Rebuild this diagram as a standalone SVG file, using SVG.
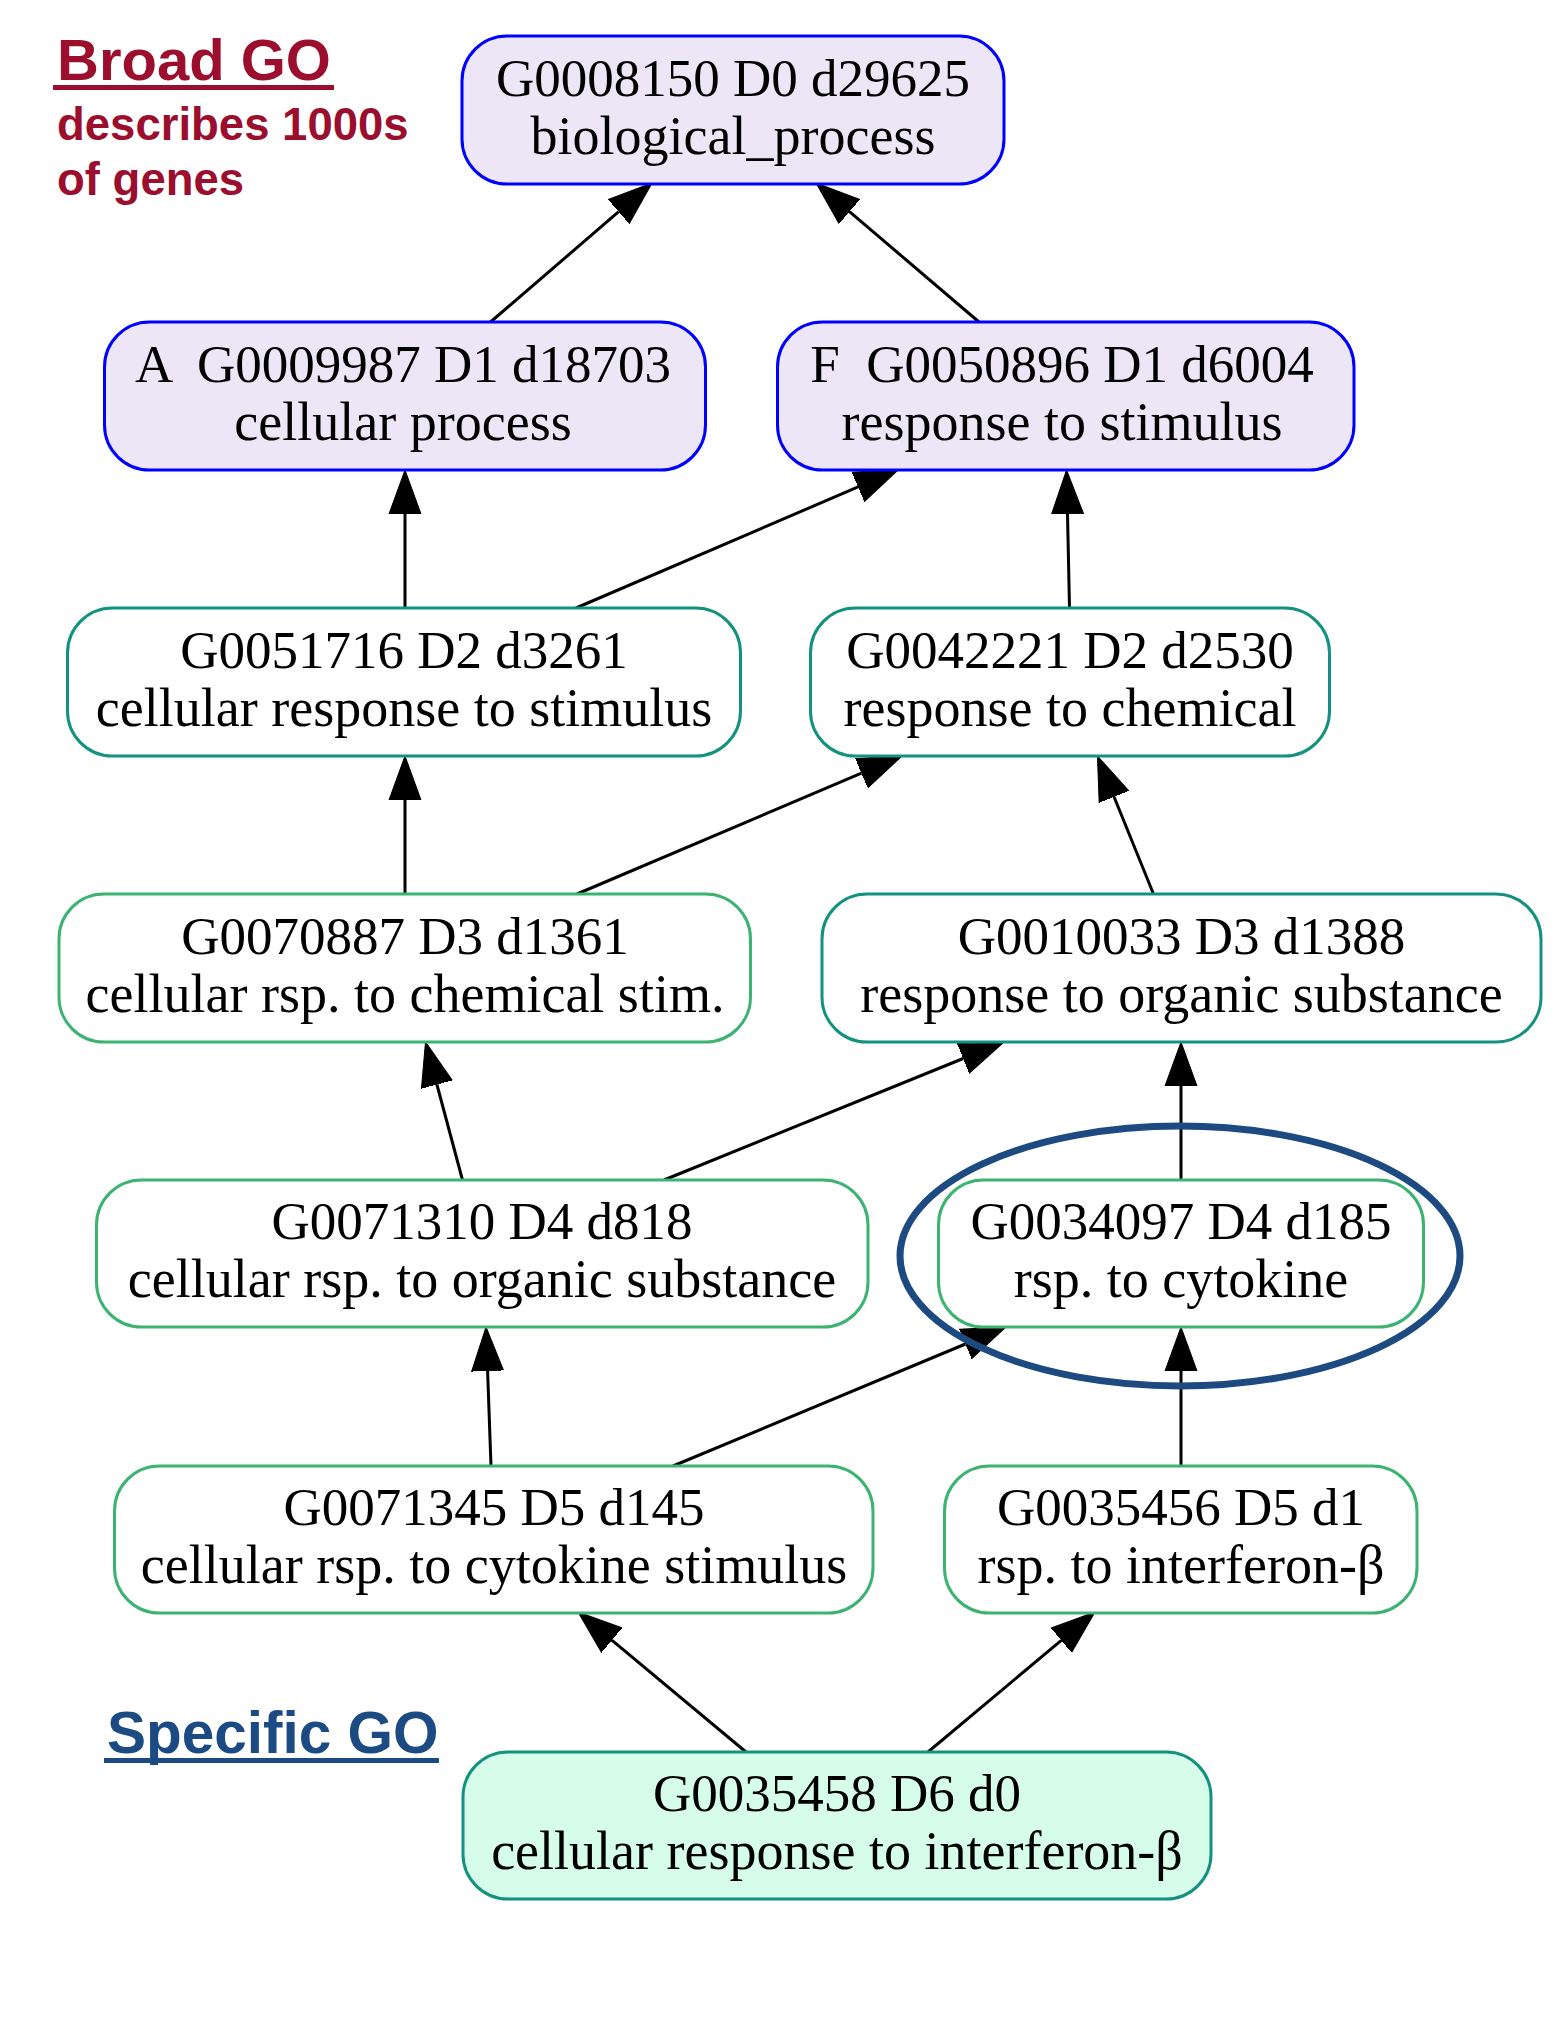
<svg xmlns="http://www.w3.org/2000/svg" width="1559" height="2038" viewBox="0 0 1559 2038">
<style>
.n rect{stroke-width:3}
.lav rect{fill:#ede6f6;stroke:#0000ff}
.teal rect{fill:#ffffff;stroke:#12927f}
.grn rect{fill:#ffffff;stroke:#3cb371}
.mint rect{fill:#d5fde9;stroke:#12927f}
.n text{font-family:"Liberation Serif","Times New Roman",serif;font-size:53px;fill:#000;text-anchor:middle;white-space:pre}
.n text.d{font-size:54px}
.e line{stroke:#000;stroke-width:3;fill:none}
.lbl{font-family:"Liberation Sans",Arial,sans-serif;font-weight:bold}
</style>
<defs>
<marker id="ah" markerUnits="userSpaceOnUse" markerWidth="46" markerHeight="34" refX="0" refY="17" orient="auto" viewBox="0 0 46 34">
<path d="M0,1 L44,17 L0,33 z" fill="#000" stroke="#000" stroke-width="1"/>
</marker>
</defs>
<rect width="1559" height="2038" fill="#ffffff"/>

<g id="labels">
<text class="lbl" x="57" y="80" font-size="58" fill="#9b0e2d">Broad GO</text>
<line x1="53" y1="87.5" x2="334" y2="87.5" stroke="#9b0e2d" stroke-width="5"/>
<text class="lbl" x="57" y="140" font-size="45.5" fill="#9b0e2d">describes 1000s</text>
<text class="lbl" x="57" y="195" font-size="45.5" fill="#9b0e2d">of genes</text>
<text class="lbl" x="107" y="1753" font-size="58.5" fill="#1c4a82">Specific GO</text>
<line x1="104" y1="1760.5" x2="439" y2="1760.5" stroke="#1c4a82" stroke-width="5"/>
</g>

<g id="edges" class="e">
<line x1="490.5" y1="322" x2="618.7" y2="211.7" marker-end="url(#ah)"/>
<line x1="979" y1="322" x2="849.5" y2="211.6" marker-end="url(#ah)"/>
<line x1="576" y1="608" x2="858.1" y2="486.9" marker-end="url(#ah)"/>
<line x1="405" y1="608" x2="405" y2="514" marker-end="url(#ah)"/>
<line x1="1069.5" y1="608" x2="1067.5" y2="514" marker-end="url(#ah)"/>
<line x1="405" y1="894" x2="405" y2="800" marker-end="url(#ah)"/>
<line x1="577" y1="894" x2="861.5" y2="773.2" marker-end="url(#ah)"/>
<line x1="1153.5" y1="894" x2="1114" y2="796.8" marker-end="url(#ah)"/>
<line x1="462.5" y1="1180" x2="436.9" y2="1084.5" marker-end="url(#ah)"/>
<line x1="664" y1="1180" x2="963.2" y2="1058.5" marker-end="url(#ah)"/>
<line x1="1181" y1="1180" x2="1181" y2="1086" marker-end="url(#ah)"/>
<line x1="491" y1="1466" x2="487.6" y2="1371" marker-end="url(#ah)"/>
<line x1="673" y1="1466" x2="965.4" y2="1344" marker-end="url(#ah)"/>
<line x1="1181" y1="1466" x2="1181" y2="1371" marker-end="url(#ah)"/>
<line x1="746" y1="1752" x2="611.8" y2="1640.2" marker-end="url(#ah)"/>
<line x1="928" y1="1752" x2="1061.3" y2="1640.3" marker-end="url(#ah)"/>
</g>

<g id="n_G0008150" class="n lav">
<rect x="462" y="36" width="542" height="148" rx="45" ry="45"/>
<text x="733" y="96">G0008150 D0 d29625</text>
<text class="d" x="733" y="154">biological_process</text>
</g>
<g id="n_G0009987" class="n lav">
<rect x="104.5" y="322" width="601" height="148" rx="45" ry="45"/>
<text x="403" y="382">A  G0009987 D1 d18703</text>
<text class="d" x="403" y="440">cellular process</text>
</g>
<g id="n_G0050896" class="n lav">
<rect x="777.5" y="322" width="576.5" height="148" rx="45" ry="45"/>
<text x="1062" y="382">F  G0050896 D1 d6004</text>
<text class="d" x="1062" y="440">response to stimulus</text>
</g>
<g id="n_G0051716" class="n teal">
<rect x="67.5" y="608" width="673" height="148" rx="45" ry="45"/>
<text x="404" y="668">G0051716 D2 d3261</text>
<text class="d" x="404" y="726">cellular response to stimulus</text>
</g>
<g id="n_G0042221" class="n teal">
<rect x="810.5" y="608" width="519" height="148" rx="45" ry="45"/>
<text x="1070" y="668">G0042221 D2 d2530</text>
<text class="d" x="1070" y="726">response to chemical</text>
</g>
<g id="n_G0070887" class="n grn">
<rect x="59" y="894" width="691.5" height="148" rx="45" ry="45"/>
<text x="405" y="954">G0070887 D3 d1361</text>
<text class="d" x="405" y="1012">cellular rsp. to chemical stim.</text>
</g>
<g id="n_G0010033" class="n teal">
<rect x="822" y="894" width="719" height="148" rx="45" ry="45"/>
<text x="1181.5" y="954">G0010033 D3 d1388</text>
<text class="d" x="1181.5" y="1012">response to organic substance</text>
</g>
<g id="n_G0071310" class="n grn">
<rect x="96.5" y="1180" width="771.5" height="147" rx="45" ry="45"/>
<text x="482" y="1239">G0071310 D4 d818</text>
<text class="d" x="482" y="1297">cellular rsp. to organic substance</text>
</g>
<g id="n_G0034097" class="n grn">
<rect x="938.5" y="1180" width="485" height="147" rx="45" ry="45"/>
<text x="1181" y="1239">G0034097 D4 d185</text>
<text class="d" x="1181" y="1297">rsp. to cytokine</text>
</g>
<g id="n_G0071345" class="n grn">
<rect x="114.5" y="1466" width="758.5" height="147" rx="45" ry="45"/>
<text x="494" y="1525">G0071345 D5 d145</text>
<text class="d" x="494" y="1583">cellular rsp. to cytokine stimulus</text>
</g>
<g id="n_G0035456" class="n grn">
<rect x="944.5" y="1466" width="472.5" height="147" rx="45" ry="45"/>
<text x="1181" y="1525">G0035456 D5 d1</text>
<text class="d" x="1181" y="1583">rsp. to interferon-β</text>
</g>
<g id="n_G0035458" class="n mint">
<rect x="463" y="1752" width="748" height="147" rx="45" ry="45"/>
<text x="837" y="1811">G0035458 D6 d0</text>
<text class="d" x="837" y="1869">cellular response to interferon-β</text>
</g>

<g id="highlight">
<ellipse cx="1180" cy="1256" rx="280" ry="130" fill="none" stroke="#1d4a80" stroke-width="7"/>
</g>
</svg>
